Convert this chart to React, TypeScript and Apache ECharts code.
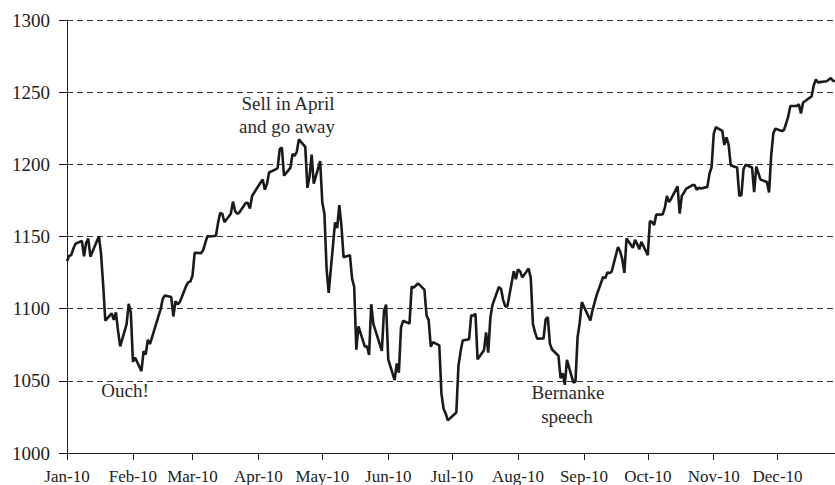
import React, { useEffect, useRef } from "react";
import * as echarts from "echarts";

// S&P 500 daily closes, 2010
const dates: string[] = [
  "2010-01-04","2010-01-05","2010-01-06","2010-01-07","2010-01-08","2010-01-11","2010-01-12","2010-01-13","2010-01-14","2010-01-15",
  "2010-01-19","2010-01-20","2010-01-21","2010-01-22","2010-01-25","2010-01-26","2010-01-27","2010-01-28","2010-01-29",
  "2010-02-01","2010-02-02","2010-02-03","2010-02-04","2010-02-05","2010-02-08","2010-02-09","2010-02-10","2010-02-11","2010-02-12",
  "2010-02-16","2010-02-17","2010-02-18","2010-02-19","2010-02-22","2010-02-23","2010-02-24","2010-02-25","2010-02-26",
  "2010-03-01","2010-03-02","2010-03-03","2010-03-04","2010-03-05","2010-03-08","2010-03-09","2010-03-10","2010-03-11","2010-03-12",
  "2010-03-15","2010-03-16","2010-03-17","2010-03-18","2010-03-19","2010-03-22","2010-03-23","2010-03-24","2010-03-25","2010-03-26",
  "2010-03-29","2010-03-30","2010-03-31",
  "2010-04-01","2010-04-05","2010-04-06","2010-04-07","2010-04-08","2010-04-09","2010-04-12","2010-04-13","2010-04-14","2010-04-15",
  "2010-04-16","2010-04-19","2010-04-20","2010-04-21","2010-04-22","2010-04-23","2010-04-26","2010-04-27","2010-04-28","2010-04-29","2010-04-30",
  "2010-05-03","2010-05-04","2010-05-05","2010-05-06","2010-05-07","2010-05-10","2010-05-11","2010-05-12","2010-05-13","2010-05-14",
  "2010-05-17","2010-05-18","2010-05-19","2010-05-20","2010-05-21","2010-05-24","2010-05-25","2010-05-26","2010-05-27","2010-05-28",
  "2010-06-01","2010-06-02","2010-06-03","2010-06-04","2010-06-07","2010-06-08","2010-06-09","2010-06-10","2010-06-11",
  "2010-06-14","2010-06-15","2010-06-16","2010-06-17","2010-06-18","2010-06-21","2010-06-22","2010-06-23","2010-06-24","2010-06-25",
  "2010-06-28","2010-06-29","2010-06-30",
  "2010-07-01","2010-07-02","2010-07-06","2010-07-07","2010-07-08","2010-07-09","2010-07-12","2010-07-13","2010-07-14","2010-07-15",
  "2010-07-16","2010-07-19","2010-07-20","2010-07-21","2010-07-22","2010-07-23","2010-07-26","2010-07-27","2010-07-28","2010-07-29","2010-07-30",
  "2010-08-02","2010-08-03","2010-08-04","2010-08-05","2010-08-06","2010-08-09","2010-08-10","2010-08-11","2010-08-12","2010-08-13",
  "2010-08-16","2010-08-17","2010-08-18","2010-08-19","2010-08-20","2010-08-23","2010-08-24","2010-08-25","2010-08-26","2010-08-27",
  "2010-08-30","2010-08-31",
  "2010-09-01","2010-09-02","2010-09-03","2010-09-07","2010-09-08","2010-09-09","2010-09-10","2010-09-13","2010-09-14","2010-09-15",
  "2010-09-16","2010-09-17","2010-09-20","2010-09-21","2010-09-22","2010-09-23","2010-09-24","2010-09-27","2010-09-28","2010-09-29","2010-09-30",
  "2010-10-01","2010-10-04","2010-10-05","2010-10-06","2010-10-07","2010-10-08","2010-10-11","2010-10-12","2010-10-13","2010-10-14",
  "2010-10-15","2010-10-18","2010-10-19","2010-10-20","2010-10-21","2010-10-22","2010-10-25","2010-10-26","2010-10-27","2010-10-28","2010-10-29",
  "2010-11-01","2010-11-02","2010-11-03","2010-11-04","2010-11-05","2010-11-08","2010-11-09","2010-11-10","2010-11-11","2010-11-12",
  "2010-11-15","2010-11-16","2010-11-17","2010-11-18","2010-11-19","2010-11-22","2010-11-23","2010-11-24","2010-11-26","2010-11-29","2010-11-30",
  "2010-12-01","2010-12-02","2010-12-03","2010-12-06","2010-12-07","2010-12-08","2010-12-09","2010-12-10","2010-12-13","2010-12-14",
  "2010-12-15","2010-12-16","2010-12-17","2010-12-20","2010-12-21","2010-12-22","2010-12-23","2010-12-27","2010-12-28","2010-12-29",
  "2010-12-30","2010-12-31",
];

const closes: number[] = [
  1132.99,1136.52,1137.14,1141.69,1144.98,1146.98,1136.22,1145.68,1148.46,1136.03,
  1150.23,1138.04,1116.48,1091.76,1096.78,1092.17,1097.5,1084.53,1073.87,
  1089.19,1103.32,1097.28,1063.11,1066.19,1056.74,1070.52,1068.13,1078.47,1075.51,
  1094.87,1099.51,1106.75,1109.17,1108.01,1094.6,1105.24,1102.94,1104.49,
  1115.71,1118.31,1118.79,1122.97,1138.7,1138.5,1140.45,1145.61,1150.24,1149.99,
  1150.51,1159.46,1166.21,1165.83,1159.9,1165.81,1174.17,1167.72,1165.73,1166.59,
  1173.22,1173.27,1169.43,
  1178.1,1187.44,1189.44,1182.45,1186.44,1194.37,1196.48,1197.3,1210.65,1211.67,
  1192.13,1197.52,1207.17,1205.94,1208.67,1217.28,1212.05,1183.71,1191.36,1206.78,1186.69,
  1202.26,1173.6,1165.87,1128.15,1110.88,1159.73,1155.79,1171.67,1157.44,1135.68,
  1136.94,1120.8,1115.05,1071.59,1087.69,1073.65,1074.03,1067.95,1103.06,1089.41,
  1070.71,1098.38,1102.83,1064.88,1050.47,1062.0,1055.69,1086.84,1091.6,
  1089.63,1115.23,1114.61,1116.04,1117.51,1113.2,1095.31,1092.04,1073.69,1076.76,
  1074.57,1041.24,1030.71,
  1027.37,1022.58,1028.06,1060.27,1070.25,1077.96,1078.75,1095.34,1095.17,1096.48,
  1064.88,1071.25,1083.48,1069.59,1093.67,1102.66,1115.01,1113.84,1106.13,1101.53,1101.6,
  1125.86,1120.46,1127.24,1125.81,1121.64,1127.79,1121.06,1089.47,1083.61,1079.25,
  1079.38,1092.54,1094.16,1075.63,1071.69,1067.36,1051.87,1055.33,1047.22,1064.59,
  1048.92,1049.33,
  1080.29,1090.1,1104.51,1091.84,1098.87,1104.18,1109.55,1121.9,1121.1,1125.07,
  1124.66,1125.59,1142.71,1139.78,1134.28,1124.83,1148.67,1142.16,1147.7,1144.73,1141.2,
  1146.24,1137.03,1160.75,1159.97,1158.06,1165.15,1165.32,1169.77,1178.1,1173.81,
  1176.19,1184.71,1165.9,1178.17,1180.26,1183.08,1185.62,1185.64,1182.45,1183.78,1183.26,
  1184.38,1193.57,1197.96,1221.06,1225.85,1223.25,1213.4,1218.71,1213.54,1199.21,
  1197.75,1178.34,1178.59,1196.69,1199.73,1197.84,1180.73,1198.35,1189.4,1187.76,1180.55,
  1206.07,1221.53,1224.71,1223.12,1223.75,1228.28,1233.0,1240.4,1240.46,1241.59,
  1235.23,1242.87,1243.91,1247.08,1254.6,1258.84,1256.77,1257.54,1258.51,1259.78,
  1257.88,1257.64,
];

const axisStart = "2010-01-04";
const axisEnd = "2010-12-31";
const tickDates: string[] = [
  "2010-01-04","2010-02-04","2010-03-04","2010-04-04","2010-05-04","2010-06-04",
  "2010-07-04","2010-08-04","2010-09-04","2010-10-04","2010-11-04","2010-12-04",
];
const monthNames: string[] = ["Jan","Feb","Mar","Apr","May","Jun","Jul","Aug","Sep","Oct","Nov","Dec"];
const yMin = 1000;
const yMax = 1300;
const yStep = 50;

const annotationTexts: string[] = ["Sell in April", "and go away", "Ouch!", "Bernanke", "speech"];

const DAY = 86400000;
const toDay = (d: string) => {
  const [y, m, dd] = d.split("-").map(Number);
  return Math.round(Date.UTC(y, m - 1, dd) / DAY);
};

const FONT = "Liberation Serif";

export default function App() {
  const ref = useRef<HTMLDivElement>(null);

  useEffect(() => {
    if (!ref.current) return;
    const chart = echarts.init(ref.current, undefined, { renderer: "svg" });
    const tickDays = tickDates.map(toDay);
    const seriesData = dates.map((d, i) => [toDay(d), closes[i]]);
    const annPos = [
      [288, 103],
      [287, 126],
      [125, 390],
      [568, 392],
      [567, 416],
    ];

    chart.setOption({
      animation: false,
      backgroundColor: "#ffffff",
      textStyle: { fontFamily: FONT },
      grid: { left: 67, right: 0, top: 20, bottom: 32, containLabel: false },
      xAxis: {
        type: "value",
        min: toDay(axisStart),
        max: toDay(axisEnd),
        axisLine: { show: true, onZero: false, lineStyle: { color: "#1a1a1a", width: 1 } },
        axisTick: { show: true, customValues: tickDays, length: 7, inside: false, lineStyle: { color: "#1a1a1a", width: 1 } },
        axisLabel: {
          show: true,
          customValues: tickDays,
          formatter: (v: number) => monthNames[new Date(v * DAY).getUTCMonth()] + "-10",
          color: "#222222",
          fontFamily: FONT,
          fontSize: 17,
          margin: 15,
          hideOverlap: false,
        },
        splitLine: { show: false },
      },
      yAxis: {
        type: "value",
        min: yMin,
        max: yMax,
        interval: yStep,
        axisLine: { show: true, lineStyle: { color: "#1a1a1a", width: 1 } },
        axisTick: { show: true, length: 8, inside: false, lineStyle: { color: "#1a1a1a", width: 1 } },
        axisLabel: {
          color: "#222222",
          fontFamily: FONT,
          fontSize: 19,
          margin: 17,
          formatter: (v: number) => String(v),
        },
        splitLine: { show: true, lineStyle: { color: "#333333", width: 1, type: [6, 4] } },
      },
      series: [
        {
          type: "line",
          data: seriesData,
          showSymbol: false,
          symbol: "none",
          lineStyle: { color: "#1a1a1a", width: 2.6 },
          clip: true,
        },
      ],
      graphic: annotationTexts.map((t, i) => ({
        type: "text",
        x: annPos[i][0],
        y: annPos[i][1],
        style: {
          text: t,
          fill: "#2a2a2a",
          fontFamily: FONT,
          fontSize: 19,
          textAlign: "center",
          textVerticalAlign: "middle",
        },
      })),
    });

    return () => chart.dispose();
  }, []);

  return (
    <div
      ref={ref}
      style={{ position: "fixed", left: 0, top: 0, width: 835, height: 485, background: "#fff" }}
    />
  );
}
